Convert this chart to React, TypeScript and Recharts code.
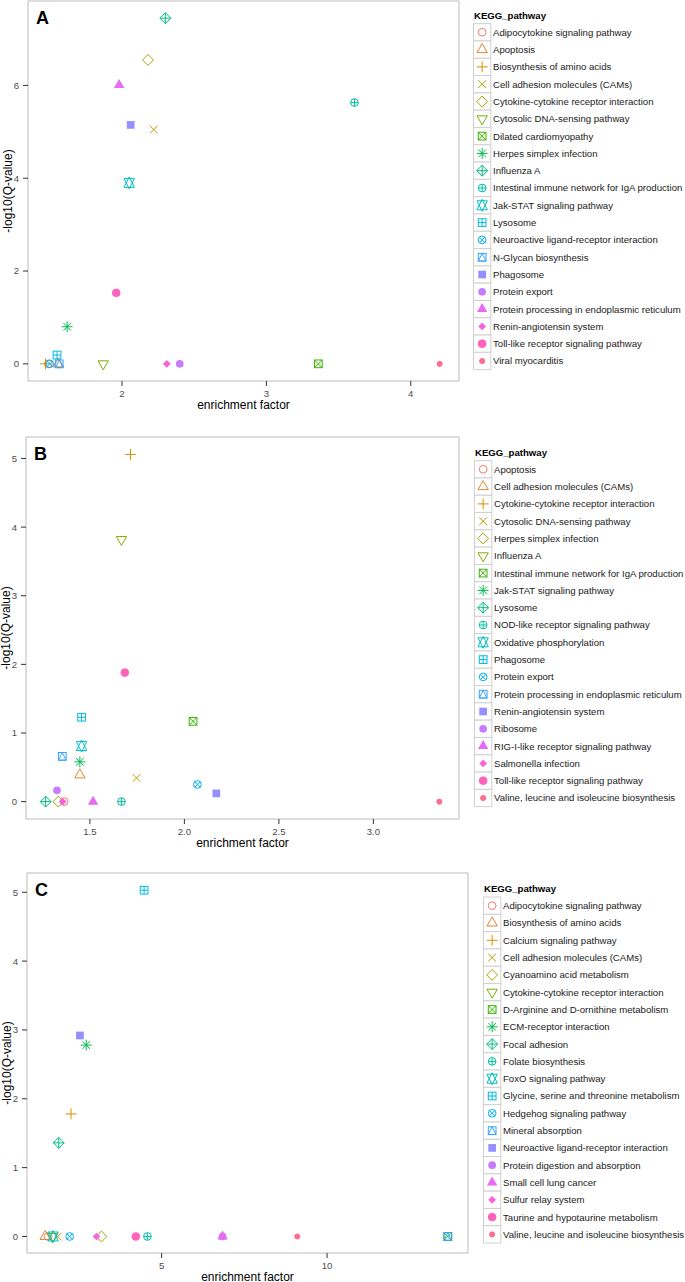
import React from 'react';
import { ScatterChart, Scatter, XAxis, YAxis, ReferenceArea, Legend } from 'recharts';

// ggplot2 hue palette for 20 levels and shapes 1..20
const PALETTE = ['#F8766D', '#EA8331', '#D89000', '#C09B00', '#A3A500', '#7CAE00', '#39B600', '#00BB4E', '#00BF7D', '#00C1A3', '#00BFC4', '#00BAE0', '#00B0F6', '#35A2FF', '#9590FF', '#C77CFF', '#E76BF3', '#FA62DB', '#FF62BC', '#FF6C91'];
const SHAPES = [1, 2, 3, 4, 5, 6, 7, 8, 9, 10, 11, 12, 13, 14, 15, 16, 17, 18, 19, 20];

// ---------- Panel A ----------
const A_pathways = ['Adipocytokine signaling pathway', 'Apoptosis', 'Biosynthesis of amino acids', 'Cell adhesion molecules (CAMs)', 'Cytokine-cytokine receptor interaction', 'Cytosolic DNA-sensing pathway', 'Dilated cardiomyopathy', 'Herpes simplex infection', 'Influenza A', 'Intestinal immune network for IgA production', 'Jak-STAT signaling pathway', 'Lysosome', 'Neuroactive ligand-receptor interaction', 'N-Glycan biosynthesis', 'Phagosome', 'Protein export', 'Protein processing in endoplasmic reticulum', 'Renin-angiotensin system', 'Toll-like receptor signaling pathway', 'Viral myocarditis'];
const A_enrichment = [1.49, 1.56, 1.47, 2.22, 2.18, 1.87, 3.36, 1.62, 2.30, 3.61, 2.05, 1.55, 1.50, 1.565, 2.06, 2.40, 1.98, 2.31, 1.96, 4.20];
const A_negLog10Q = [0, 0, 0, 5.05, 6.55, 0, 0, 0.80, 7.45, 5.63, 3.90, 0.19, 0, 0, 5.15, 0, 6.01, 0, 1.53, 0];
const A_xTicks = [2, 3, 4];
const A_yTicks = [0, 2, 4, 6];
const A_xDomain = [1.349, 4.334];
const A_yDomain = [-0.37, 7.82];

// ---------- Panel B ----------
const B_pathways = ['Apoptosis', 'Cell adhesion molecules (CAMs)', 'Cytokine-cytokine receptor interaction', 'Cytosolic DNA-sensing pathway', 'Herpes simplex infection', 'Influenza A', 'Intestinal immune network for IgA production', 'Jak-STAT signaling pathway', 'Lysosome', 'NOD-like receptor signaling pathway', 'Oxidative phosphorylation', 'Phagosome', 'Protein export', 'Protein processing in endoplasmic reticulum', 'Renin-angiotensin system', 'Ribosome', 'RIG-I-like receptor signaling pathway', 'Salmonella infection', 'Toll-like receptor signaling pathway', 'Valine, leucine and isoleucine biosynthesis'];
const B_enrichment = [1.364, 1.447, 1.715, 1.747, 1.333, 1.667, 2.046, 1.447, 1.266, 1.667, 1.456, 1.456, 2.069, 1.354, 2.169, 1.326, 1.517, 1.356, 1.685, 3.349];
const B_negLog10Q = [0, 0.39, 5.06, 0.345, 0, 3.82, 1.17, 0.58, 0, 0, 0.81, 1.23, 0.25, 0.66, 0.12, 0.165, 0, 0, 1.88, 0];
const B_xTicks = [1.5, 2.0, 2.5, 3.0];
const B_yTicks = [0, 1, 2, 3, 4, 5];
const B_xDomain = [1.162, 3.453];
const B_yDomain = [-0.253, 5.313];

// ---------- Panel C ----------
const C_pathways = ['Adipocytokine signaling pathway', 'Biosynthesis of amino acids', 'Calcium signaling pathway', 'Cell adhesion molecules (CAMs)', 'Cyanoamino acid metabolism', 'Cytokine-cytokine receptor interaction', 'D-Arginine and D-ornithine metabolism', 'ECM-receptor interaction', 'Focal adhesion', 'Folate biosynthesis', 'FoxO signaling pathway', 'Glycine, serine and threonine metabolism', 'Hedgehog signaling pathway', 'Mineral absorption', 'Neuroactive ligand-receptor interaction', 'Protein digestion and absorption', 'Small cell lung cancer', 'Sulfur relay system', 'Taurine and hypotaurine metabolism', 'Valine, leucine and isoleucine biosynthesis'];
const C_enrichment = [1.57, 1.48, 2.26, 1.86, 3.18, 1.70, 13.65, 2.72, 1.89, 4.57, 1.72, 4.47, 2.22, 13.65, 2.53, 6.84, 6.84, 3.03, 4.22, 9.10];
const C_negLog10Q = [0, 0, 1.78, 0, 0, 0, 0, 2.78, 1.36, 0, 0, 5.03, 0, 0, 2.92, 0, 0, 0, 0, 0];
const C_xTicks = [5, 10];
const C_yTicks = [0, 1, 2, 3, 4, 5];
const C_xDomain = [0.93, 14.26];
const C_yDomain = [-0.24, 5.28];

const FONT = '"Liberation Sans", Arial, Helvetica, sans-serif';

function Marker({ cx, cy, shape, color }: any) {
  if (cx == null || cy == null) return null;
  const R = 3.85;
  const o = { fill: 'none', stroke: color, strokeWidth: 1 };
  const f = { fill: color, stroke: 'none' };
  const s2 = Math.SQRT2 * R;
  const plus = (h: number) => `M${cx - h},${cy}H${cx + h}M${cx},${cy - h}V${cy + h}`;
  const cross = (h: number) => `M${cx - h},${cy - h}L${cx + h},${cy + h}M${cx - h},${cy + h}L${cx + h},${cy - h}`;
  const diamond = (h: number) => `${cx},${cy - h} ${cx + h},${cy} ${cx},${cy + h} ${cx - h},${cy}`;
  const tr = 1.555 * R, tyc = 0.778 * R, txc = 1.347 * R;
  const triUp = `${cx},${cy - tr} ${cx + txc},${cy + tyc} ${cx - txc},${cy + tyc}`;
  const triDown = `${cx},${cy + tr} ${cx + txc},${cy - tyc} ${cx - txc},${cy - tyc}`;
  const sq = { x: cx - R, y: cy - R, width: 2 * R, height: 2 * R };
  switch (shape) {
    case 1: return <circle cx={cx} cy={cy} r={R} {...o} />;
    case 2: return <polygon points={triUp} {...o} />;
    case 3: return <path d={plus(s2)} {...o} />;
    case 4: return <path d={cross(R)} {...o} />;
    case 5: return <polygon points={diamond(s2)} {...o} />;
    case 6: return <polygon points={triDown} {...o} />;
    case 7: return <g><rect {...sq} {...o} /><path d={cross(R)} {...o} /></g>;
    case 8: return <g><path d={cross(R)} {...o} /><path d={plus(s2)} {...o} /></g>;
    case 9: return <g><polygon points={diamond(s2)} {...o} /><path d={plus(s2)} {...o} /></g>;
    case 10: return <g><circle cx={cx} cy={cy} r={R} {...o} /><path d={plus(R)} {...o} /></g>;
    case 11: {
      const yc = 0.5 * (0.778 + 1.555) * R;
      const p1 = `${cx},${cy - tr} ${cx + txc},${cy + yc} ${cx - txc},${cy + yc}`;
      const p2 = `${cx},${cy + tr} ${cx + txc},${cy - yc} ${cx - txc},${cy - yc}`;
      return <g><polygon points={p1} {...o} /><polygon points={p2} {...o} /></g>;
    }
    case 12: return <g><rect {...sq} {...o} /><path d={plus(R)} {...o} /></g>;
    case 13: return <g><circle cx={cx} cy={cy} r={R} {...o} /><path d={cross(R * 0.72)} {...o} /></g>;
    case 14: return <g><rect {...sq} {...o} /><polygon points={`${cx},${cy - R} ${cx + R},${cy + R} ${cx - R},${cy + R}`} {...o} /></g>;
    case 15: return <rect {...sq} {...f} />;
    case 16: return <circle cx={cx} cy={cy} r={R} {...f} />;
    case 17: return <polygon points={triUp} {...f} />;
    case 18: return <polygon points={diamond(R)} {...f} />;
    case 19: return <circle cx={cx} cy={cy} r={R} fill={color} stroke={color} strokeWidth={1} />;
    case 20: return <circle cx={cx} cy={cy} r={R * 2 / 3} fill={color} stroke={color} strokeWidth={1} />;
    default: return null;
  }
}

function PanelTag({ viewBox, text }: any) {
  if (!viewBox) return null;
  return <text x={viewBox.x + 8} y={viewBox.y + 22.5} fontSize={18} fontWeight="bold" fill="#000" fontFamily={FONT}>{text}</text>;
}

function XTitle({ viewBox }: any) {
  if (!viewBox) return null;
  return <text x={viewBox.x + viewBox.width / 2} y={viewBox.y + 27.5} textAnchor="middle" fontSize={12} fill="#000" fontFamily={FONT}>enrichment factor</text>;
}

function YTitle({ viewBox }: any) {
  if (!viewBox) return null;
  const x = viewBox.x + viewBox.width - 20;
  const y = viewBox.y + viewBox.height / 2;
  return <text x={x} y={y} transform={`rotate(-90, ${x}, ${y})`} textAnchor="middle" dominantBaseline="central" fontSize={12} fill="#000" fontFamily={FONT}>-log10(Q-value)</text>;
}

function KeggLegend({ names, titleY, firstY, height }: any) {
  const step = 17.3;
  return (
    <svg width={212} height={height} style={{ display: 'block', overflow: 'visible' }}>
      <text x={1} y={titleY + 3.4} fontSize={9.6} fontWeight="bold" fill="#000" fontFamily={FONT}>KEGG_pathway</text>
      {names.map((n: string, i: number) => {
        const cy = firstY + i * step;
        return (
          <g key={n}>
            <rect x={0.5} y={cy - step / 2} width={step} height={step} fill="#fff" stroke="#d0d0d0" strokeWidth={1} />
            <Marker cx={0.5 + step / 2} cy={cy} shape={SHAPES[i]} color={PALETTE[i]} />
            <text x={20} y={cy + 3.4} fontSize={9.6} fill="#1a1a1a" fontFamily={FONT}>{n}</text>
          </g>
        );
      })}
    </svg>
  );
}

function Panel({ tag, top, height, margin, xAxisHeight, names, xs, ys, xTicks, yTicks, xDomain, yDomain, xFmt, legendLeft, titleY, firstY }: any) {
  return (
    <div style={{ position: 'absolute', left: 0, top, width: 685, height }}>
      <ScatterChart width={685} height={height} margin={margin} style={{ fontFamily: FONT }}>
        <XAxis type="number" dataKey="x" domain={xDomain} allowDataOverflow ticks={xTicks} tickFormatter={xFmt}
          axisLine={false} tickLine={{ stroke: '#333333' }} tickSize={5} tickMargin={4} height={xAxisHeight}
          tick={{ fill: '#4d4d4d', fontSize: 9.6 }} label={<XTitle />} />
        <YAxis type="number" dataKey="y" domain={yDomain} allowDataOverflow ticks={yTicks} width={20}
          axisLine={false} tickLine={{ stroke: '#333333' }} tickSize={5} tickMargin={4}
          tick={{ fill: '#4d4d4d', fontSize: 9.6 }} label={<YTitle />} />
        <ReferenceArea x1={xDomain[0]} x2={xDomain[1]} y1={yDomain[0]} y2={yDomain[1]} fill="none" fillOpacity={0}
          stroke="#bbbbbb" strokeWidth={1} label={<PanelTag text={tag} />} />
        {names.map((n: string, i: number) => (
          <Scatter key={n} name={n} data={[{ x: xs[i], y: ys[i] }]} isAnimationActive={false} legendType="none"
            shape={(p: any) => <Marker cx={p.cx} cy={p.cy} shape={SHAPES[i]} color={PALETTE[i]} />} />
        ))}
        <Legend layout="horizontal" align="center" verticalAlign="middle"
          wrapperStyle={{ left: legendLeft, top: 0, width: 212, height }}
          content={() => <KeggLegend names={names} titleY={titleY} firstY={firstY} height={height} />} />
      </ScatterChart>
    </div>
  );
}

export default function App() {
  return (
    <div style={{ position: 'absolute', left: 0, top: 0, width: 685, height: 1282, background: '#fff', fontFamily: FONT }}>
      <Panel tag="A" top={0} height={435} margin={{ top: 1, right: 226, bottom: 0, left: 8 }} xAxisHeight={54}
        names={A_pathways} xs={A_enrichment} ys={A_negLog10Q} xTicks={A_xTicks} yTicks={A_yTicks}
        xDomain={A_xDomain} yDomain={A_yDomain} xFmt={(v: number) => String(v)}
        legendLeft={473.3} titleY={15.7} firstY={32.3} />
      <Panel tag="B" top={436} height={436} margin={{ top: 1, right: 226, bottom: 0, left: 6 }} xAxisHeight={53}
        names={B_pathways} xs={B_enrichment} ys={B_negLog10Q} xTicks={B_xTicks} yTicks={B_yTicks}
        xDomain={B_xDomain} yDomain={B_yDomain} xFmt={(v: number) => v.toFixed(1)}
        legendLeft={474.3} titleY={16.7} firstY={33.3} />
      <Panel tag="C" top={872} height={410} margin={{ top: 1, right: 217, bottom: 0, left: 7 }} xAxisHeight={29}
        names={C_pathways} xs={C_enrichment} ys={C_negLog10Q} xTicks={C_xTicks} yTicks={C_yTicks}
        xDomain={C_xDomain} yDomain={C_yDomain} xFmt={(v: number) => String(v)}
        legendLeft={482.7} titleY={17} firstY={33.7} />
    </div>
  );
}
